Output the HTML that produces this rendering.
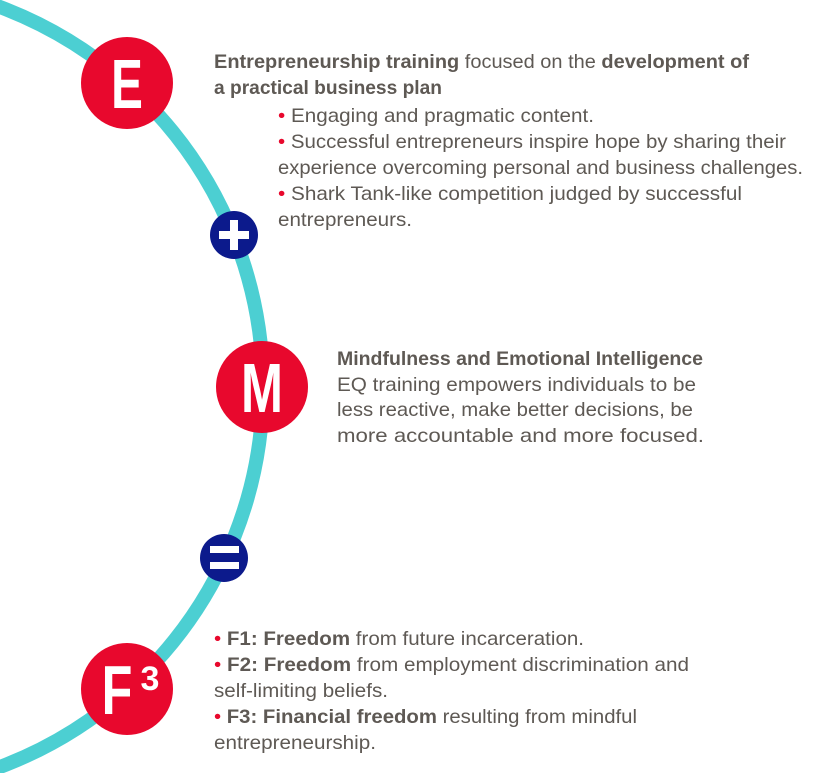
<!DOCTYPE html>
<html><head><meta charset="utf-8"><style>
html,body{margin:0;padding:0;background:#fff;}
svg{display:block}
text{font-family:"Liberation Sans",sans-serif;font-size:19.5px;fill:#5e5954}
.b{font-weight:bold}
.r{fill:#e8082d}
.big{font-size:70px;fill:#fff;font-weight:bold}
</style></head><body>
<svg width="819" height="773" viewBox="0 0 819 773">
<circle cx="-143" cy="387" r="406" fill="none" stroke="#4ccfd2" stroke-width="14"/>
<circle cx="127" cy="83" r="46" fill="#e8082d"/>
<text class="big" text-anchor="middle" transform="translate(127,108) scale(0.68,1)">E</text>
<circle cx="262" cy="387" r="46" fill="#e8082d"/>
<text class="big" text-anchor="middle" transform="translate(262,412) scale(0.72,1)">M</text>
<circle cx="127" cy="689" r="46" fill="#e8082d"/>
<text class="big" text-anchor="middle" transform="translate(117,714) scale(0.72,1)">F</text>
<text x="150" y="690" text-anchor="middle" style="font-size:34px;fill:#fff;font-weight:bold">3</text>
<circle cx="234" cy="235" r="24" fill="#0c1a8c"/>
<rect x="219" y="231" width="30" height="8" fill="#fff"/><rect x="230" y="220" width="8" height="30" fill="#fff"/>
<circle cx="224" cy="558" r="24" fill="#0c1a8c"/>
<rect x="210" y="546" width="29" height="7" fill="#fff"/><rect x="210" y="562" width="29" height="7" fill="#fff"/>

<text x="214" y="68" textLength="535" lengthAdjust="spacingAndGlyphs"><tspan class="b">Entrepreneurship training</tspan> focused on the <tspan class="b">development of</tspan></text>
<text x="214" y="94" textLength="228" lengthAdjust="spacingAndGlyphs" class="b">a practical business plan</text>
<text x="278" y="122" textLength="316" lengthAdjust="spacingAndGlyphs"><tspan class="r">•</tspan> Engaging and pragmatic content.</text>
<text x="278" y="148" textLength="508" lengthAdjust="spacingAndGlyphs"><tspan class="r">•</tspan> Successful entrepreneurs inspire hope by sharing their</text>
<text x="278" y="174" textLength="525" lengthAdjust="spacingAndGlyphs">experience overcoming personal and business challenges.</text>
<text x="278" y="200" textLength="464" lengthAdjust="spacingAndGlyphs"><tspan class="r">•</tspan> Shark Tank-like competition judged by successful</text>
<text x="278" y="226" textLength="134" lengthAdjust="spacingAndGlyphs">entrepreneurs.</text>

<text x="337" y="365" textLength="366" lengthAdjust="spacingAndGlyphs" class="b">Mindfulness and Emotional Intelligence</text>
<text x="337" y="391" textLength="359" lengthAdjust="spacingAndGlyphs">EQ training empowers individuals to be</text>
<text x="337" y="416" textLength="356" lengthAdjust="spacingAndGlyphs">less reactive, make better decisions, be</text>
<text x="337" y="442" textLength="367" lengthAdjust="spacingAndGlyphs">more accountable and more focused.</text>

<text x="214" y="645" textLength="370" lengthAdjust="spacingAndGlyphs"><tspan class="r">•</tspan> <tspan class="b">F1: Freedom</tspan> from future incarceration.</text>
<text x="214" y="671" textLength="475" lengthAdjust="spacingAndGlyphs"><tspan class="r">•</tspan> <tspan class="b">F2: Freedom</tspan> from employment discrimination and</text>
<text x="214" y="697" textLength="174" lengthAdjust="spacingAndGlyphs">self-limiting beliefs.</text>
<text x="214" y="723" textLength="423" lengthAdjust="spacingAndGlyphs"><tspan class="r">•</tspan> <tspan class="b">F3: Financial freedom</tspan> resulting from mindful</text>
<text x="214" y="749" textLength="162" lengthAdjust="spacingAndGlyphs">entrepreneurship.</text>
</svg>
</body></html>
